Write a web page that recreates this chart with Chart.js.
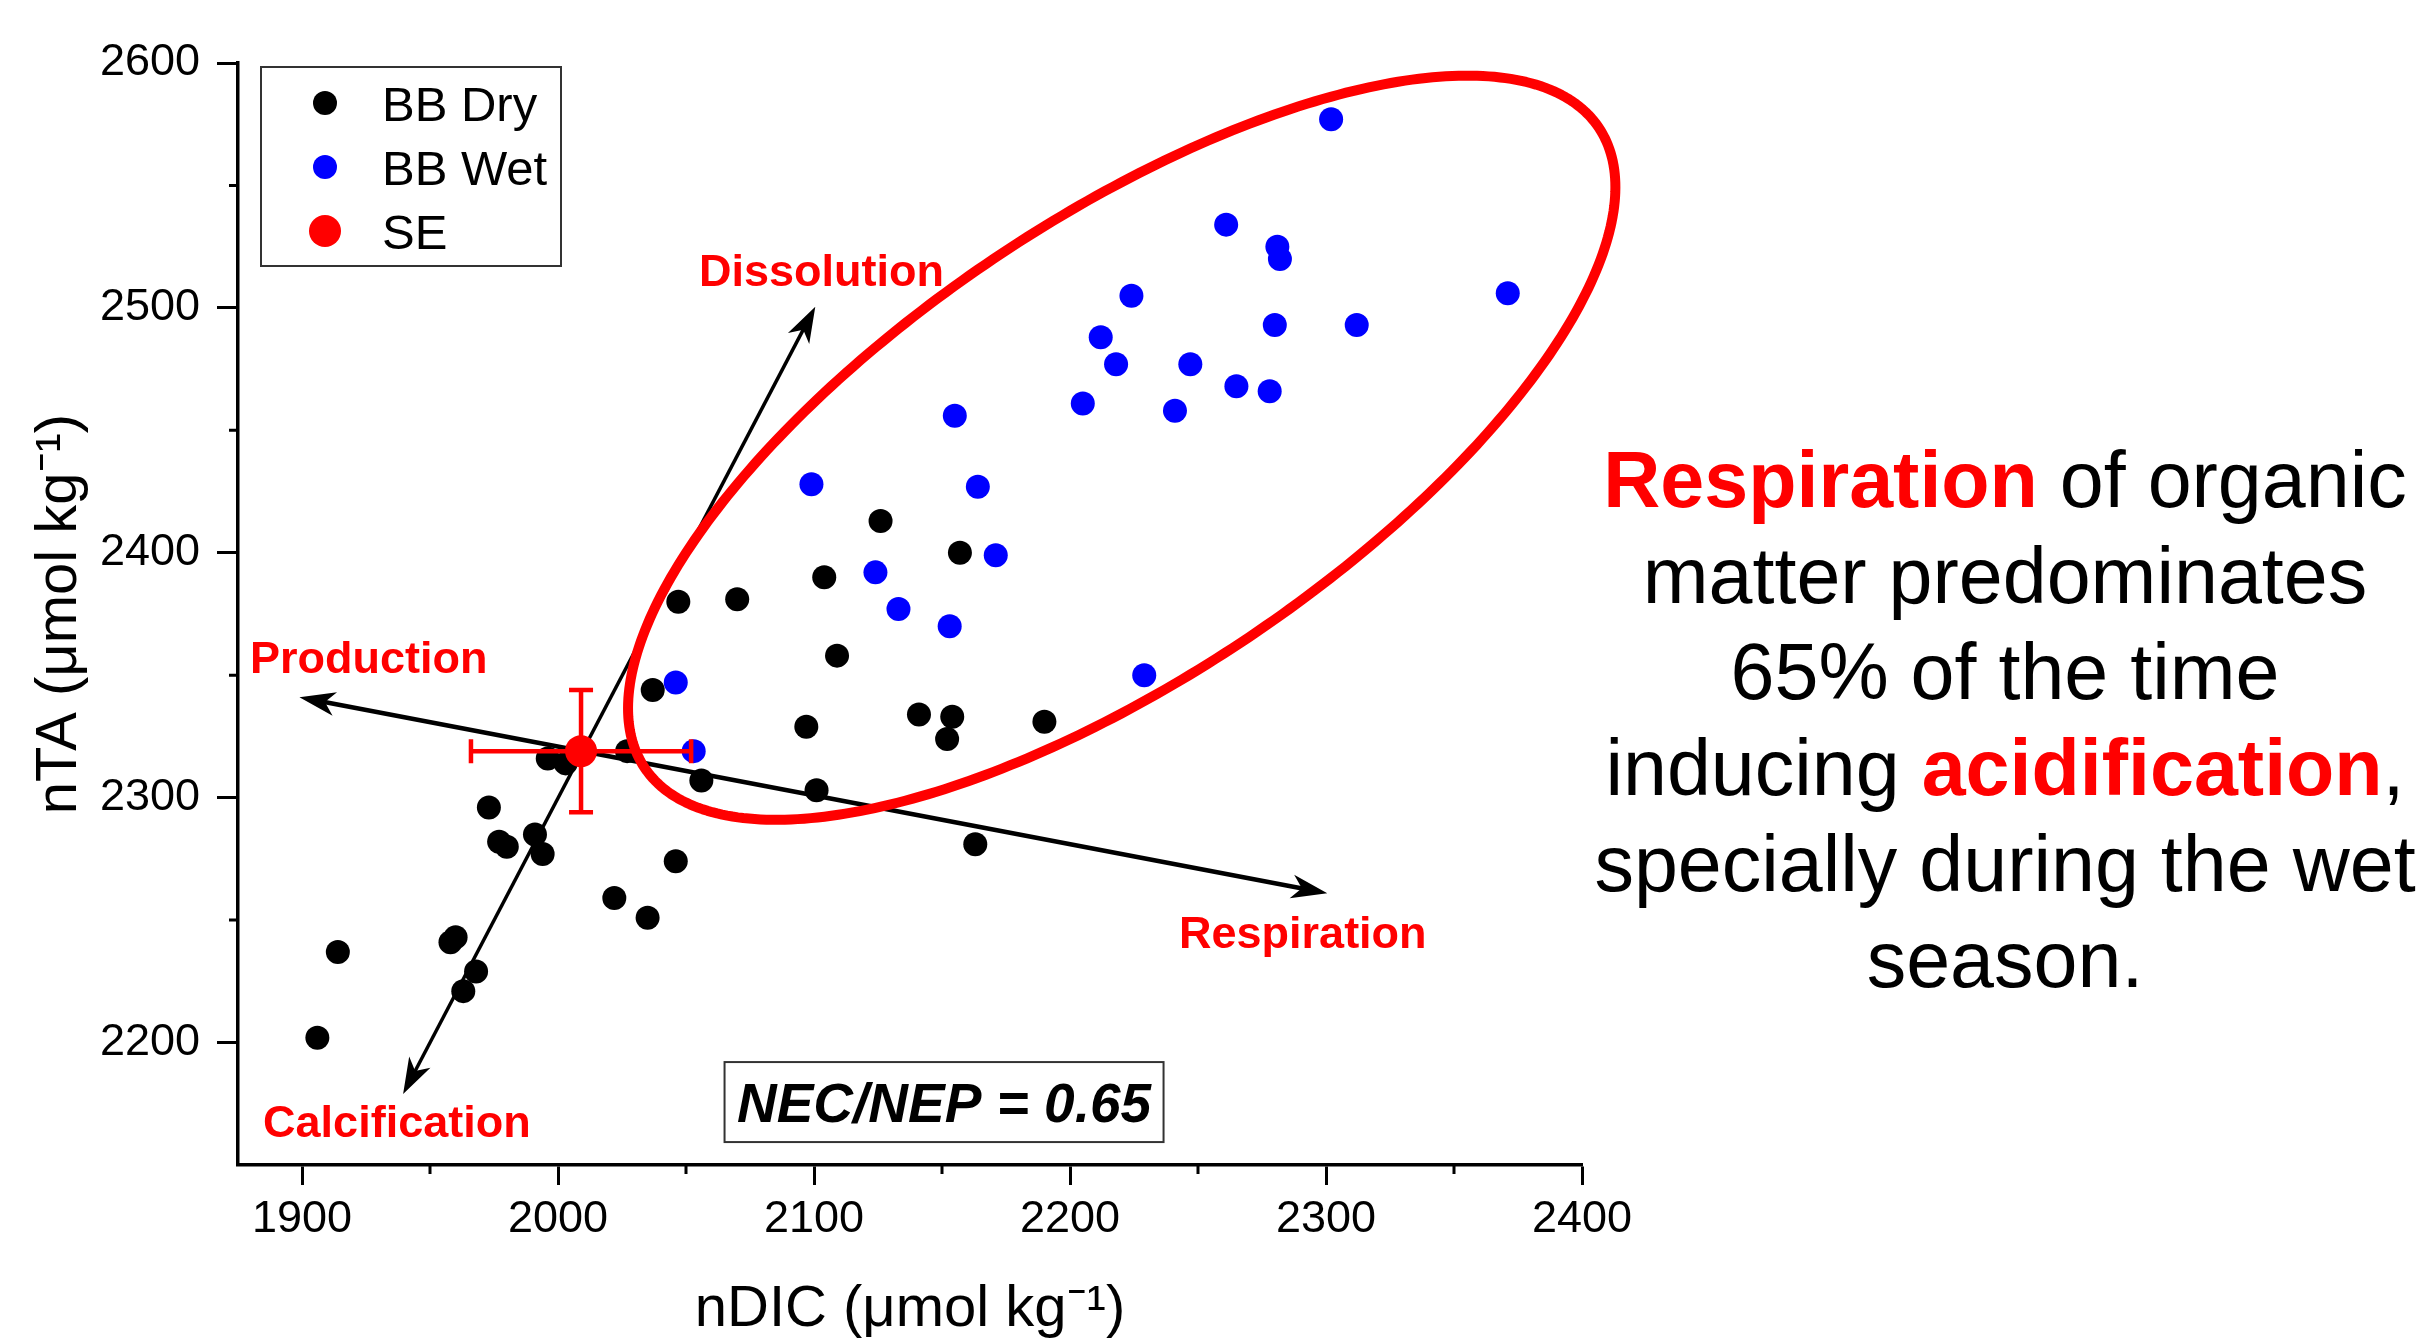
<!DOCTYPE html>
<html><head><meta charset="utf-8">
<script src="https://cdn.jsdelivr.net/npm/chart.js@4.4.1/dist/chart.umd.min.js"></script>
<style>
html,body{margin:0;padding:0;background:#fff;}
#wrap{position:relative;width:2424px;height:1341px;overflow:hidden;}
#c{position:absolute;left:0;top:0;}
#note{position:absolute;left:1555px;top:432px;width:900px;text-align:center;font-family:'Liberation Sans',Arial,sans-serif;font-size:79px;line-height:96px;color:#000;}
#note b{color:#ff0000;}
</style></head><body>
<div id="wrap"><canvas id="c" width="2424" height="1341"></canvas>
<div id="note"><b>Respiration</b> of organic<br>matter predominates<br>65% of the time<br>inducing <b>acidification</b>,<br>specially during the wet<br>season.</div></div>
<script>
// ---------------- data ----------------
const dryDIC = [1906,1914,1958,1960,1963,1968,1973,1977,1980,1991,1994,1996,2003,2022,2027,2035,2037,2046,2047,2056,2070,2097,2101,2104,2109,2126,2141,2152,2154,2157,2163,2190];
const dryTA  = [2202,2237,2241,2243,2221,2229,2296,2282,2280,2285,2277,2316,2314,2259,2319,2251,2344,2274,2380,2307,2381,2329,2303,2390,2358,2413,2334,2324,2333,2400,2281,2331];
const wetDIC = [2046,2053,2099,2124,2133,2153,2155,2164,2171,2205,2212,2218,2224,2229,2241,2247,2261,2265,2278,2280,2281,2282,2302,2312,2371];
const wetTA  = [2347,2319,2428,2392,2377,2370,2456,2427,2399,2461,2488,2477,2505,2350,2458,2477,2534,2468,2466,2493,2525,2520,2577,2493,2506];
const seDIC = [2009];
const seTA = [2319];
const seErrDIC = [43];
const seErrTA = [25];
const xTickValues = [1900,2000,2100,2200,2300,2400];
const yTickValues = [2200,2300,2400,2500,2600];
const xMinorValues = [1950,2050,2150,2250,2350];
const yMinorValues = [2250,2350,2450,2550];
// reaction vectors (tips in data units): Dissolution, Calcification, Production, Respiration
const vectorNames = ['Dissolution','Calcification','Production','Respiration'];
const vectorTipDIC = [2100.5,1939.5,1899,2300.5];
const vectorTipTA  = [2500.5,2179,2341,2261];
const ratioText = 'NEC/NEP = 0.65';

// ---------------- annotation layout (data-unit anchors) ----------------
const labelAnchors = {
  'Dissolution':  {x:2055.1, y:2508.9},
  'Calcification':{x:1884.8, y:2161.3},
  'Production':   {x:1879.7, y:2350.9},
  'Respiration':  {x:2242.6, y:2238.8}
};
const ellipseCfg = {cx:2220.2, cy:2442.9, ax:186.3, ay:130.8, bx:49.8, by:-77.3};
const ratioBox = {x:2150.8, y:2175.7, w:439, h:80};

const FONT = "'Liberation Sans', Arial, sans-serif";
Chart.defaults.font.family = FONT;
Chart.defaults.color = '#000';

function arrowHead(ctx, x1, y1, x2, y2, len, half){
  const a = Math.atan2(y2-y1, x2-x1);
  ctx.save(); ctx.translate(x2,y2); ctx.rotate(a);
  ctx.beginPath(); ctx.moveTo(0,0); ctx.lineTo(-len,-half); ctx.lineTo(-len*0.72,0); ctx.lineTo(-len,half); ctx.closePath(); ctx.fill();
  ctx.restore();
}
function shorten(x1,y1,x2,y2,d){
  const L = Math.hypot(x2-x1,y2-y1);
  return [x2-(x2-x1)/L*d, y2-(y2-y1)/L*d];
}

const overlay = {
  id:'overlay',
  afterDatasetDraw(chart, args){
    if (args.index !== 1) return;
    const ctx = chart.ctx, xs = chart.scales.x, ys = chart.scales.y;
    ctx.save();
    // reaction vectors
    ctx.fillStyle = '#000'; ctx.strokeStyle = '#000';
    const pairs = [[0,1,3.5],[2,3,4.5]];
    pairs.forEach(([i,j,w])=>{
      const x1 = xs.getPixelForValue(vectorTipDIC[i]), y1 = ys.getPixelForValue(vectorTipTA[i]);
      const x2 = xs.getPixelForValue(vectorTipDIC[j]), y2 = ys.getPixelForValue(vectorTipTA[j]);
      const s = shorten(x2,y2,x1,y1,20), e = shorten(x1,y1,x2,y2,20);
      ctx.lineWidth = w; ctx.beginPath(); ctx.moveTo(s[0],s[1]); ctx.lineTo(e[0],e[1]); ctx.stroke();
      arrowHead(ctx, x2,y2,x1,y1, 36, 12);
      arrowHead(ctx, x1,y1,x2,y2, 36, 12);
    });
    // ellipse
    ctx.strokeStyle = '#ff0000'; ctx.lineWidth = 10; ctx.lineJoin = 'round';
    ctx.beginPath();
    for (let k=0;k<=360;k++){
      const t = k/360*Math.PI*2;
      const vx = ellipseCfg.cx + ellipseCfg.ax*Math.cos(t) + ellipseCfg.bx*Math.sin(t);
      const vy = ellipseCfg.cy + ellipseCfg.ay*Math.cos(t) + ellipseCfg.by*Math.sin(t);
      const px = xs.getPixelForValue(vx), py = ys.getPixelForValue(vy);
      if (k===0) ctx.moveTo(px,py); else ctx.lineTo(px,py);
    }
    ctx.closePath(); ctx.stroke();
    // SE error bars
    ctx.strokeStyle = '#ff0000'; ctx.lineWidth = 4.5;
    seDIC.forEach((d,i)=>{
      const cx = xs.getPixelForValue(d), cy = ys.getPixelForValue(seTA[i]);
      const xl = xs.getPixelForValue(d-seErrDIC[i]), xr = xs.getPixelForValue(d+seErrDIC[i]);
      const yt = ys.getPixelForValue(seTA[i]+seErrTA[i]), yb = ys.getPixelForValue(seTA[i]-seErrTA[i]);
      ctx.beginPath();
      ctx.moveTo(xl,cy); ctx.lineTo(xr,cy);
      ctx.moveTo(cx,yt); ctx.lineTo(cx,yb);
      ctx.moveTo(xl,cy-12); ctx.lineTo(xl,cy+12);
      ctx.moveTo(xr,cy-12); ctx.lineTo(xr,cy+12);
      ctx.moveTo(cx-12,yt); ctx.lineTo(cx+12,yt);
      ctx.moveTo(cx-12,yb); ctx.lineTo(cx+12,yb);
      ctx.stroke();
    });
    ctx.restore();
  },
  afterDraw(chart){
    const ctx = chart.ctx, xs = chart.scales.x, ys = chart.scales.y, ca = chart.chartArea;
    ctx.save();
    // minor ticks
    ctx.strokeStyle = '#000'; ctx.lineWidth = 3;
    ctx.beginPath();
    xMinorValues.forEach(v=>{ const p = xs.getPixelForValue(v); ctx.moveTo(p, ca.bottom); ctx.lineTo(p, ca.bottom+9); });
    yMinorValues.forEach(v=>{ const p = ys.getPixelForValue(v); ctx.moveTo(ca.left, p); ctx.lineTo(ca.left-9, p); });
    ctx.stroke();
    // vector labels
    ctx.fillStyle = '#ff0000'; ctx.font = 'bold 45px ' + FONT; ctx.textAlign = 'left'; ctx.textBaseline = 'alphabetic';
    vectorNames.forEach(n=>{
      const a = labelAnchors[n];
      ctx.fillText(n, xs.getPixelForValue(a.x), ys.getPixelForValue(a.y));
    });
    // ratio box
    const bx = xs.getPixelForValue(ratioBox.x), by = ys.getPixelForValue(ratioBox.y);
    ctx.strokeStyle = '#333'; ctx.lineWidth = 2;
    ctx.strokeRect(bx-ratioBox.w/2, by-ratioBox.h/2, ratioBox.w, ratioBox.h);
    ctx.fillStyle = '#000'; ctx.font = 'italic bold 55px ' + FONT; ctx.textAlign = 'center'; ctx.textBaseline = 'alphabetic';
    ctx.fillText(ratioText, bx, by + 20);
    // legend
    const lx = ca.left + 23, ly = ca.top + 4, lw = 300, lh = 199;
    ctx.strokeStyle = '#333'; ctx.lineWidth = 2;
    ctx.strokeRect(lx, ly, lw, lh);
    ctx.font = '49px ' + FONT; ctx.textAlign = 'left'; ctx.textBaseline = 'alphabetic';
    [0,1,2].forEach((di,row)=>{
      const ds = chart.data.datasets[di];
      const my = ly + 36 + row*64;
      ctx.fillStyle = ds.backgroundColor;
      ctx.beginPath(); ctx.arc(lx + 64, my, ds.legendRadius, 0, Math.PI*2); ctx.fill();
      ctx.fillStyle = '#000';
      ctx.fillText(ds.label, lx + 121, my + 17.5);
    });
    ctx.restore();
  }
};

const toPts = (xs, ys) => xs.map((x,i)=>({x, y: ys[i]}));

new Chart(document.getElementById('c'), {
  type: 'scatter',
  data: {
    datasets: [
      {label:'BB Dry', data: toPts(dryDIC, dryTA), backgroundColor:'#000000', borderWidth:0, pointRadius:12, pointHoverRadius:12, order:2, legendRadius:12},
      {label:'BB Wet', data: toPts(wetDIC, wetTA), backgroundColor:'#0000ff', borderWidth:0, pointRadius:12, pointHoverRadius:12, order:1, legendRadius:12},
      {label:'SE', data: toPts(seDIC, seTA), backgroundColor:'#ff0000', borderWidth:0, pointRadius:16, pointHoverRadius:16, order:0, legendRadius:16}
    ]
  },
  options: {
    responsive: false,
    animation: false,
    devicePixelRatio: 1,
    layout: { padding: {top:63, right:842, bottom:0, left:0} },
    plugins: { legend:{display:false}, tooltip:{enabled:false} },
    events: [],
    scales: {
      x: {
        type:'linear', position:'bottom', min:1875, max:2400,
        afterBuildTicks: s => { s.ticks = xTickValues.map(v=>({value:v})); },
        afterFit: s => { s.height = 176; },
        ticks: { font:{size:45}, color:'#000', padding:8, maxRotation:0, autoSkip:false, callback: v => String(v) },
        grid: { drawOnChartArea:false, drawTicks:true, tickLength:20, tickWidth:3, tickColor:'#000' },
        border: { display:true, color:'#000', width:3.5 },
        title: { display:true, text:'nDIC (μmol kg⁻¹)', font:{size:58}, color:'#000', padding:{top:0,bottom:-4} }
      },
      y: {
        type:'linear', position:'left', min:2150, max:2600,
        afterBuildTicks: s => { s.ticks = yTickValues.map(v=>({value:v})); },
        afterFit: s => { s.width = 238; },
        ticks: { font:{size:45}, color:'#000', padding:17, autoSkip:false, callback: v => String(v) },
        grid: { drawOnChartArea:false, drawTicks:true, tickLength:21, tickWidth:3, tickColor:'#000' },
        border: { display:true, color:'#000', width:3.5 },
        title: { display:true, text:'nTA (μmol kg⁻¹)', font:{size:58}, color:'#000', padding:{top:25,bottom:0} }
      }
    }
  },
  plugins: [overlay]
});
</script>
</body></html>
